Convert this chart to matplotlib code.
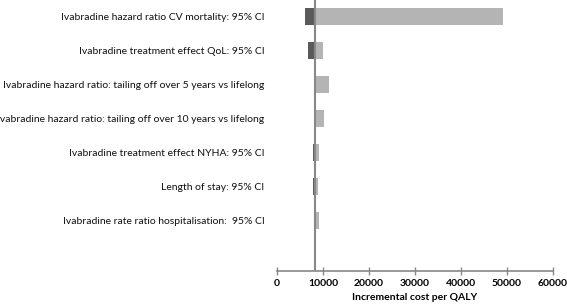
"""Tornado diagram: one-way sensitivity analysis of ivabradine ICER."""

import matplotlib.pyplot as plt
import numpy as np

plt.rcParams["font.family"] = ["Lato", "DejaVu Sans"]

# ICER of the base case (where the bars meet)
BASE_ICER = 8300

labels = [
    "Ivabradine hazard ratio CV mortality: 95% CI",
    "Ivabradine treatment effect QoL: 95% CI",
    "Ivabradine hazard ratio: tailing off over 5 years vs lifelong",
    "Ivabradine hazard ratio: tailing off over 10 years vs lifelong",
    "Ivabradine treatment effect NYHA: 95% CI",
    "Length of stay: 95% CI",
    "Ivabradine rate ratio hospitalisation:  95% CI",
]
low_icer = [6000, 6740, np.nan, np.nan, 7830, 7830, 7960]
high_icer = [49200, 10000, 11220, 10130, 9130, 8830, 9130]
x_ticks = [0, 10000, 20000, 30000, 40000, 50000, 60000]

DARK = "#5a5a5a"
LIGHT = "#b4b4b4"
AXIS = "#888888"


def main() -> None:
    fig = plt.figure(figsize=(5.67, 3.06), dpi=100)
    ax = fig.add_axes([277 / 567, 35 / 306, 276 / 567, 271 / 306])

    y = np.arange(len(labels))
    low = np.array(low_icer, dtype=float)
    high = np.array(high_icer, dtype=float)

    has_low = ~np.isnan(low)
    ax.barh(y[has_low], low[has_low] - BASE_ICER, left=BASE_ICER,
            height=0.5, color=DARK, zorder=2)
    ax.barh(y, high - BASE_ICER, left=BASE_ICER,
            height=0.5, color=LIGHT, zorder=2)

    ax.axvline(BASE_ICER, color=AXIS, linewidth=1.5, zorder=3)

    ax.set_xlim(0, 60000)
    ax.set_ylim(len(labels) + 0.5, -0.5)
    ax.set_xticks(x_ticks)
    ax.set_xticklabels([str(t) for t in x_ticks], fontsize=7.5,
                       fontweight="bold")
    ax.set_yticks(y)
    ax.set_yticklabels(labels, fontsize=7.5, color="#111111")
    ax.tick_params(axis="y", length=0, pad=9)
    ax.tick_params(axis="x", direction="inout", length=6, width=1,
                   color=AXIS, pad=3)
    ax.set_xlabel("Incremental cost per QALY", fontsize=7.5,
                  fontweight="bold", labelpad=3)

    for side in ("top", "right", "left"):
        ax.spines[side].set_visible(False)
    ax.spines["bottom"].set_color(AXIS)
    ax.spines["bottom"].set_linewidth(1.2)

    fig.savefig("out.png", dpi=100)
    plt.close(fig)


if __name__ == "__main__":
    main()
